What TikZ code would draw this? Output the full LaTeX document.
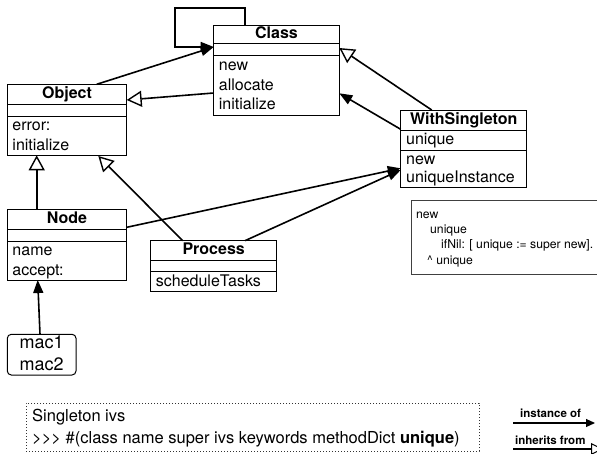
\documentclass[tikz,border=0pt]{standalone}
\usepackage{fontspec}
\setmainfont{TeX Gyre Heros}
\usetikzlibrary{arrows.meta}
\begin{document}
\begin{tikzpicture}[x=1pt,y=-1pt,
  umlbox/.style={draw, line width=1pt, inner sep=0pt, outer sep=0pt, anchor=north west},
  sepline/.style={line width=1pt},
  hdr/.style={font=\fontsize{16}{19}\selectfont\bfseries, inner sep=0pt, text height=11.5pt, text depth=3.4pt},
  txt/.style={font=\fontsize{16}{19}\selectfont, inner sep=0pt, anchor=west, text height=11.5pt, text depth=3.4pt},
  ctxt/.style={font=\fontsize{18}{21}\selectfont, inner sep=0pt, text height=13pt, text depth=3.8pt},
  small/.style={font=\fontsize{12.2}{14}\selectfont, inner sep=0pt, anchor=west, text height=8.8pt, text depth=2.6pt},
  legtxt/.style={font=\fontsize{11.5}{13}\selectfont\bfseries, inner sep=0pt, anchor=west, text height=8.3pt, text depth=2.4pt},
  conn/.style={line width=1.6pt},
  inst/.style={conn, -{Triangle[length=13pt,width=10pt]}},
  inh/.style={conn, -{Triangle[open,length=15pt,width=16pt,line width=1.4pt]}},
]
\useasboundingbox (0,0) rectangle (597,453);

% ---------- Class ----------
\node[umlbox, minimum width=125.6pt, minimum height=90pt] (cls) at (213.7,25) {};
\draw[sepline] ([yshift=-18.7pt]cls.north west) -- ([yshift=-18.7pt]cls.north east);
\draw[sepline] ([yshift=-30.7pt]cls.north west) -- ([yshift=-30.7pt]cls.north east);
\node[hdr] (clsh) at ([yshift=-9.4pt]cls.north) {Class};
\node[txt] (cls1) at ([xshift=5pt,yshift=-41.5pt]cls.north west) {new};
\node[txt] (cls2) at ([xshift=5pt,yshift=-61.2pt]cls.north west) {allocate};
\node[txt] (cls3) at ([xshift=5pt,yshift=-80.9pt]cls.north west) {initialize};

% ---------- Object ----------
\node[umlbox, minimum width=119.4pt, minimum height=71pt] (obj) at (7.3,84.3) {};
\draw[sepline] ([yshift=-19.7pt]obj.north west) -- ([yshift=-19.7pt]obj.north east);
\draw[sepline] ([yshift=-32.4pt]obj.north west) -- ([yshift=-32.4pt]obj.north east);
\node[hdr] (objh) at ([yshift=-9.8pt]obj.north) {Object};
\node[txt] (obj1) at ([xshift=5pt,yshift=-42.4pt]obj.north west) {error:};
\node[txt] (obj2) at ([xshift=5pt,yshift=-62.1pt]obj.north west) {initialize};

% ---------- Node ----------
\node[umlbox, minimum width=119.4pt, minimum height=70.7pt] (nd) at (7.3,209.3) {};
\draw[sepline] ([yshift=-20pt]nd.north west) -- ([yshift=-20pt]nd.north east);
\draw[sepline] ([yshift=-31.7pt]nd.north west) -- ([yshift=-31.7pt]nd.north east);
\node[hdr] (ndh) at ([yshift=-10pt]nd.north) {Node};
\node[txt] (nd1) at ([xshift=5pt,yshift=-42.2pt]nd.north west) {name};
\node[txt] (nd2) at ([xshift=5pt,yshift=-61.9pt]nd.north west) {accept:};

% ---------- Process ----------
\node[umlbox, minimum width=126pt, minimum height=50.3pt] (proc) at (150.7,240.7) {};
\draw[sepline] ([yshift=-19.3pt]proc.north west) -- ([yshift=-19.3pt]proc.north east);
\draw[sepline] ([yshift=-31pt]proc.north west) -- ([yshift=-31pt]proc.north east);
\node[hdr] (proch) at ([yshift=-9.6pt]proc.north) {Process};
\node[txt] (proc1) at ([xshift=5pt,yshift=-41.6pt]proc.north west) {scheduleTasks};

% ---------- WithSingleton ----------
\node[umlbox, minimum width=126pt, minimum height=77.7pt] (ws) at (400.7,110) {};
\draw[sepline] ([yshift=-20pt]ws.north west) -- ([yshift=-20pt]ws.north east);
\draw[sepline] ([yshift=-40pt]ws.north west) -- ([yshift=-40pt]ws.north east);
\node[hdr] (wsh) at ([yshift=-10pt]ws.north) {WithSingleton};
\node[txt] (ws1) at ([xshift=5.3pt,yshift=-30pt]ws.north west) {unique};
\node[txt] (ws2) at ([xshift=5.3pt,yshift=-50.2pt]ws.north west) {new};
\node[txt] (ws3) at ([xshift=5.3pt,yshift=-68.5pt]ws.north west) {uniqueInstance};

% ---------- mac1/mac2 ----------
\node[umlbox, rounded corners=4pt, minimum width=68.7pt, minimum height=40.7pt] (mac) at (7.3,334.3) {};
\node[ctxt] (mac1) at ([yshift=-10pt]mac.north) {mac1};
\node[ctxt] (mac2) at ([yshift=-32pt]mac.north) {mac2};

% ---------- note ----------
\node[umlbox, draw=black!75, minimum width=210pt, minimum height=74pt] (note) at (411,200) {};
\node[small] (n1) at ([xshift=5pt,yshift=-15pt]note.north west) {new};
\node[small] (n2) at ([xshift=19pt,yshift=-30pt]note.north west) {unique};
\node[small] (n3) at ([xshift=30pt,yshift=-45.3pt]note.north west) {ifNil: [ unique := super new].};
\node[small] (n4) at ([xshift=16pt,yshift=-61pt]note.north west) {\^{} unique};

% ---------- ivs box ----------
\node[umlbox, draw=black!80, dash pattern=on 1pt off 2pt, minimum width=453pt, minimum height=48pt] (ivs) at (26,403) {};
\node[font=\fontsize{16.5}{19}\selectfont, inner sep=0pt, anchor=west, text height=11.8pt, text depth=3.5pt] (ivs1) at ([xshift=6pt,yshift=-14.5pt]ivs.north west) {Singleton ivs};
\node[font=\fontsize{16.5}{19}\selectfont, inner sep=0pt, anchor=west, text height=11.8pt, text depth=3.5pt] (ivs2) at ([xshift=6pt,yshift=-36.5pt]ivs.north west) {>{}>{}> \#(class name super ivs keywords methodDict \textbf{unique})};

% ---------- connectors ----------
\draw[inst] ([xshift=31.3pt]cls.north west) -- ++(0,-17) -- ++(-70,0) -- ++(0,39) -- ([yshift=-22pt]cls.north west);
\draw[inst] ([xshift=89.4pt]obj.north west) -- ([yshift=-22pt]cls.north west);
\draw[inh] ([yshift=-68pt]cls.north west) -- ([yshift=-15.7pt]obj.north east);
\draw[inh] ([xshift=29.4pt]nd.north west) -- ([xshift=29.4pt]obj.south west);
\draw[inh] ([xshift=32pt]proc.north west) -- ([xshift=91pt,yshift=-0.7pt]obj.south west);
\draw[inst] ([yshift=-18pt]nd.north east) -- ([yshift=-58.3pt]ws.north west);
\draw[inst] ([xshift=94.3pt]proc.north west) -- ([yshift=-60pt]ws.north west);
\draw[inh] ([xshift=31pt]ws.north west) -- ([yshift=-23pt]cls.north east);
\draw[inst] ([yshift=-19.3pt]ws.north west) -- ([yshift=-68.3pt]cls.north east);
\draw[inst] ([xshift=32.7pt]mac.north west) -- ([xshift=30.4pt]nd.south west);

% ---------- legend ----------
\node[legtxt] (leg1) at (520,414.5) {instance of};
\node[legtxt] (leg2) at (515,441.5) {inherits from};
\coordinate (l1a) at (513,423);
\coordinate (l1b) at (595,423);
\coordinate (l2a) at (513,449);
\coordinate (l2b) at (603,449);
\draw[line width=1.2pt, -{Triangle[length=9pt,width=8pt]}] (l1a) -- (l1b);
\draw[line width=1.2pt, -{Triangle[open,length=12pt,width=12pt,line width=1pt]}] (l2a) -- (l2b);
\end{tikzpicture}
\end{document}
